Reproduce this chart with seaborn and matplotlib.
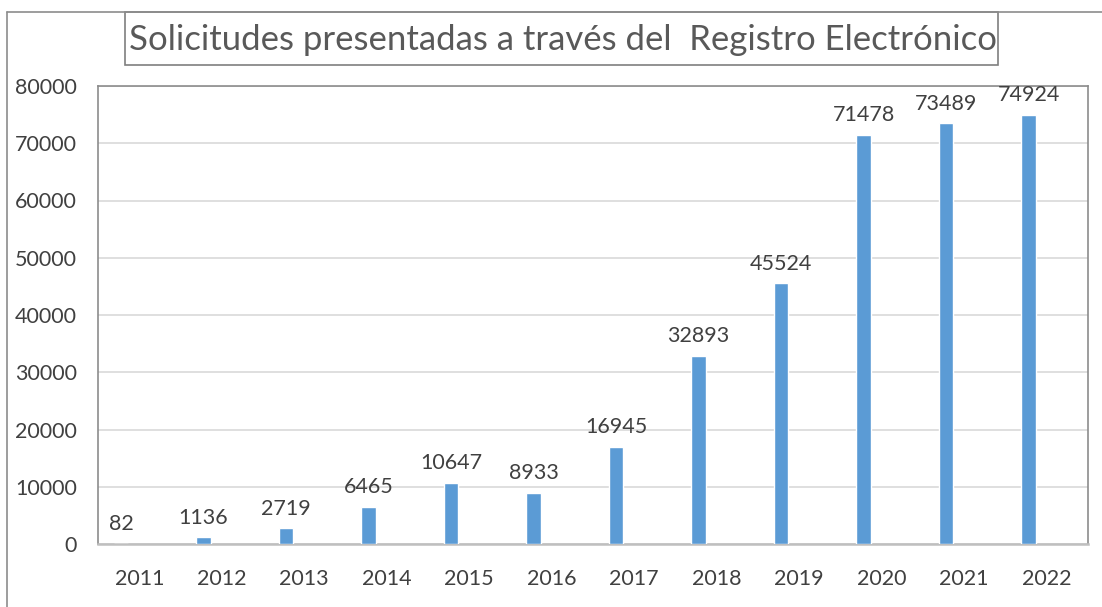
import pandas as pd
import seaborn as sns
import matplotlib.pyplot as plt
from matplotlib.patches import Rectangle
from matplotlib.lines import Line2D

YEARS = ["2011", "2012", "2013", "2014", "2015", "2016",
         "2017", "2018", "2019", "2020", "2021", "2022"]
SOLICITUDES = [82, 1136, 2719, 6465, 10647, 8933,
               16945, 32893, 45524, 71478, 73489, 74924]
TITLE = "Solicitudes presentadas a través del  Registro Electrónico"

W, H = 1102, 607
TEXT = "#404040"

sns.set_style("white")
plt.rcParams["font.family"] = ["Lato", "DejaVu Sans"]

df = pd.DataFrame({"year": YEARS, "value": SOLICITUDES, "serie": "a"})

fig = plt.figure(figsize=(W / 100, H / 100), dpi=100)
ax = fig.add_axes([98 / W, 1 - 544 / H, 990 / W, 458 / H])

# Excel-style clustered layout: bars sit in the left slot of each category
sns.barplot(data=df, x="year", y="value", hue="serie",
            hue_order=["a", "b", "c"], dodge=True, saturation=1,
            palette={"a": "#5B9BD5", "b": "#5B9BD5", "c": "#5B9BD5"},
            width=0.66, gap=0.2, legend=False, ax=ax, zorder=3)

ax.bar_label(ax.containers[0], labels=[str(v) for v in SOLICITUDES],
             padding=7, fontsize=15.5, color=TEXT)

ax.set_ylim(0, 80000)
ax.set_yticks(range(0, 80001, 10000))
ax.set_xlim(-0.5, len(YEARS) - 0.5)
ax.grid(axis="y", color="#D9D9D9", linewidth=1.2, zorder=0)
ax.set_axisbelow(True)
ax.set_xlabel("")
ax.set_ylabel("")
ax.tick_params(axis="both", length=0, labelsize=15.5, labelcolor=TEXT)
ax.tick_params(axis="y", pad=15)
ax.tick_params(axis="x", pad=18)
for side in ["left", "top", "right"]:
    ax.spines[side].set_color("#8C8C8C")
    ax.spines[side].set_linewidth(1.2)
ax.spines["bottom"].set_color("#BFBFBF")
ax.spines["bottom"].set_linewidth(1.8)

# outer chart frame (left and top edges visible)
fig.add_artist(Line2D([7 / W, 7 / W], [0, 1 - 12 / H], color="#8C8C8C", lw=1.2))
fig.add_artist(Line2D([7 / W, 1], [1 - 12 / H, 1 - 12 / H], color="#8C8C8C", lw=1.2))

# boxed title
fig.add_artist(Rectangle((125 / W, 1 - 65 / H), 873 / W, 53 / H,
                         transform=fig.transFigure, fill=False,
                         edgecolor="#7F7F7F", linewidth=1.2))
fig.text(563 / W, 1 - 40 / H, TITLE, ha="center", va="center",
         fontsize=25, color="#595959")

fig.savefig("out.png", dpi=100)
